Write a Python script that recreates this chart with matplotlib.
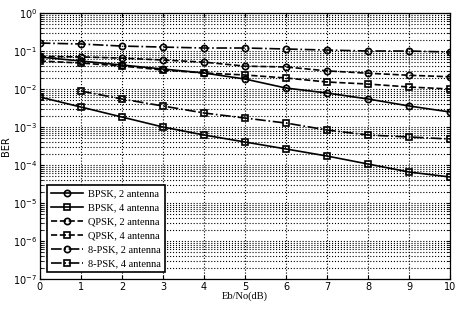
import numpy as np
import matplotlib
matplotlib.use('Agg')
import matplotlib.pyplot as plt
from matplotlib.ticker import FixedLocator, NullFormatter

# Eb/No axis (dB)
snr = [0, 1, 2, 3, 4, 5, 6, 7, 8, 9, 10]
snr_8psk4 = [1, 2, 3, 4, 5, 6, 7, 8, 9, 10]  # this curve starts at 1 dB in the picture

# BER values
bpsk_2 = [0.0695, 0.0546, 0.0428, 0.0336, 0.0264, 0.0183, 0.0106, 0.00785, 0.00546, 0.00357, 0.00248]
bpsk_4 = [0.00616, 0.00336, 0.00183, 0.001, 0.000616, 0.000403, 0.000264, 0.000172, 0.000106, 6.54e-5, 4.83e-5]
qpsk_2 = [0.072, 0.07, 0.065, 0.058, 0.051, 0.040, 0.038, 0.030, 0.026, 0.023, 0.021]
qpsk_4 = [0.0546, 0.0483, 0.0403, 0.0316, 0.0264, 0.0234, 0.0195, 0.0153, 0.0135, 0.0113, 0.010]
psk8_2 = [0.162, 0.153, 0.135, 0.127, 0.12, 0.12, 0.113, 0.106, 0.10, 0.10, 0.094]
psk8_4 = [0.00886, 0.00546, 0.00357, 0.00234, 0.00172, 0.00127, 0.000834, 0.000616, 0.000546, 0.000483]

labels = ['BPSK, 2 antenna', 'BPSK, 4 antenna', 'QPSK, 2 antenna',
          'QPSK, 4 antenna', '8-PSK, 2 antenna', '8-PSK, 4 antenna']
decades = [1e-7, 1e-6, 1e-5, 1e-4, 1e-3, 1e-2, 1e-1, 1e0]

fig = plt.figure(figsize=(4.58, 3.10), dpi=100)
ax = fig.add_axes([0.087, 0.1, 0.896, 0.858])

mk = dict(color='k', markerfacecolor='none', markeredgecolor='k', markersize=4.5, markeredgewidth=1.2, linewidth=1.2)
ax.semilogy(snr, bpsk_2, '-o', label=labels[0], **mk)
ax.semilogy(snr, bpsk_4, '-s', label=labels[1], **mk)
ax.semilogy(snr, qpsk_2, '--o', label=labels[2], **mk)
ax.semilogy(snr, qpsk_4, '--s', label=labels[3], **mk)
ax.semilogy(snr, psk8_2, '-.o', label=labels[4], **mk)
ax.semilogy(snr_8psk4, psk8_4, '-.s', label=labels[5], **mk)

ax.set_xlim(0, 10)
ax.set_ylim(1e-7, 1)
ax.set_xticks(range(0, 11))
ax.yaxis.set_major_locator(FixedLocator(decades))
minor = [m * d for d in decades[:-1] for m in range(2, 10)]
ax.yaxis.set_minor_locator(FixedLocator(minor))
ax.yaxis.set_minor_formatter(NullFormatter())

ax.grid(True, which='major', linestyle=':', color='k', linewidth=0.8)
ax.grid(True, which='minor', axis='y', linestyle=':', color='k', linewidth=0.8)
ax.tick_params(direction='in', which='both', top=True, right=True, labelsize=7, length=3, pad=2)
ax.tick_params(which='minor', length=2)
for s in ax.spines.values():
    s.set_linewidth(0.9)

ax.set_xlabel('Eb/No(dB)', family='Liberation Serif', fontsize=7.5, labelpad=0)
ax.set_ylabel('BER', fontsize=7, labelpad=1)

leg = ax.legend(loc='lower left', bbox_to_anchor=(0.005, 0.005), prop={'family': 'Liberation Serif', 'size': 7.5},
                fancybox=False, framealpha=1, edgecolor='k', handlelength=3, labelspacing=0.45,
                borderpad=0.4, handletextpad=0.5)
leg.get_frame().set_linewidth(1.2)

fig.savefig('out.png', dpi=100)
